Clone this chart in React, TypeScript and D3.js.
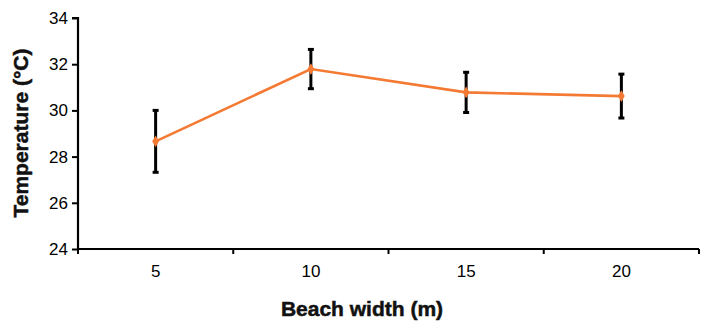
import React, { useRef, useEffect } from 'react';
import * as d3 from 'd3';

const widths = ['5', '10', '15', '20'];
const temps = [28.66, 31.79, 30.78, 30.62];
const errs = [1.34, 0.85, 0.87, 0.95];
const yTicks = [24, 26, 28, 30, 32, 34];

const W = 701;
const H = 326;

function App() {
  const svgRef = useRef<SVGSVGElement>(null);

  useEffect(() => {
    const svg = d3.select(svgRef.current);
    svg.selectAll('*').remove();

    const left = 78, right = 699, top = 18, bottom = 249;

    const x = d3.scaleBand().domain(widths).range([left, right]);
    const y = d3.scaleLinear().domain([24, 34]).range([bottom, top]);

    const font = '"Liberation Sans", Arial, Helvetica, sans-serif';

    // y axis
    const yAxis = svg.append('g')
      .attr('transform', `translate(${left},0)`)
      .call(d3.axisLeft(y).tickValues(yTicks).tickSize(6).tickPadding(4));
    // x axis
    const xAxis = svg.append('g')
      .attr('transform', `translate(0,${bottom})`)
      .call(d3.axisBottom(x).tickSize(0).tickPadding(16));

    [yAxis, xAxis].forEach(g => {
      g.attr('font-size', 17).attr('font-family', font);
      g.select('.domain').attr('stroke', '#000').attr('stroke-width', 2.2);
      g.selectAll('.tick line').attr('stroke', '#000').attr('stroke-width', 2);
      g.selectAll('.tick text').style('font-size', '17px').attr('fill', '#000');
    });
    yAxis.select('.domain').attr('d', `M-6,${top}H0V${bottom}`);
    xAxis.select('.domain').attr('d', `M${left},0H${right}`);

    // x tick marks at band boundaries
    const bounds = widths.map(w => x(w)!).concat([right]);
    xAxis.selectAll('.bnd')
      .data(bounds)
      .join('line')
      .attr('class', 'bnd')
      .attr('x1', d => d).attr('x2', d => d)
      .attr('y1', 0).attr('y2', 5)
      .attr('stroke', '#000').attr('stroke-width', 2);

    const cx = (w: string) => x(w)! + x.bandwidth() / 2;

    // error bars
    const eb = svg.append('g');
    widths.forEach((w, i) => {
      const xx = cx(w);
      const y0 = y(temps[i] - errs[i]);
      const y1 = y(temps[i] + errs[i]);
      eb.append('line').attr('x1', xx).attr('x2', xx).attr('y1', y0).attr('y2', y1)
        .attr('stroke', '#000').attr('stroke-width', 3);
      [y0, y1].forEach(yy => {
        eb.append('line').attr('x1', xx - 3).attr('x2', xx + 3).attr('y1', yy).attr('y2', yy)
          .attr('stroke', '#000').attr('stroke-width', 3);
      });
    });

    // line
    const line = d3.line<number>()
      .x((_, i) => cx(widths[i]))
      .y(d => y(d));
    svg.append('path')
      .datum(temps)
      .attr('d', line)
      .attr('fill', 'none')
      .attr('stroke', '#F47A33')
      .attr('stroke-width', 2.6);

    svg.selectAll('.pt')
      .data(temps)
      .join('path')
      .attr('class', 'pt')
      .attr('d', d3.symbol(d3.symbolDiamond, 40))
      .attr('transform', (d, i) => `translate(${cx(widths[i])},${y(d)})`)
      .attr('fill', '#F47A33');

    // titles
    svg.append('text')
      .attr('x', 362).attr('y', 316)
      .attr('text-anchor', 'middle')
      .attr('font-family', font)
      .attr('font-weight', 'bold')
      .attr('font-size', 21)
      .attr('fill', '#111')
      .attr('stroke', '#111').attr('stroke-width', 0.5)
      .text('Beach width (m)');

    svg.append('text')
      .attr('transform', `translate(28,133) rotate(-90)`)
      .attr('text-anchor', 'middle')
      .attr('font-family', font)
      .attr('font-weight', 'bold')
      .attr('font-size', 21)
      .attr('fill', '#111')
      .attr('stroke', '#111').attr('stroke-width', 0.5)
      .text('Temperature (°C)');
  }, []);

  return (
    <svg ref={svgRef} width={W} height={H}
      style={{ position: 'absolute', left: 0, top: 0, background: '#fff' }} />
  );
}

export default App;
